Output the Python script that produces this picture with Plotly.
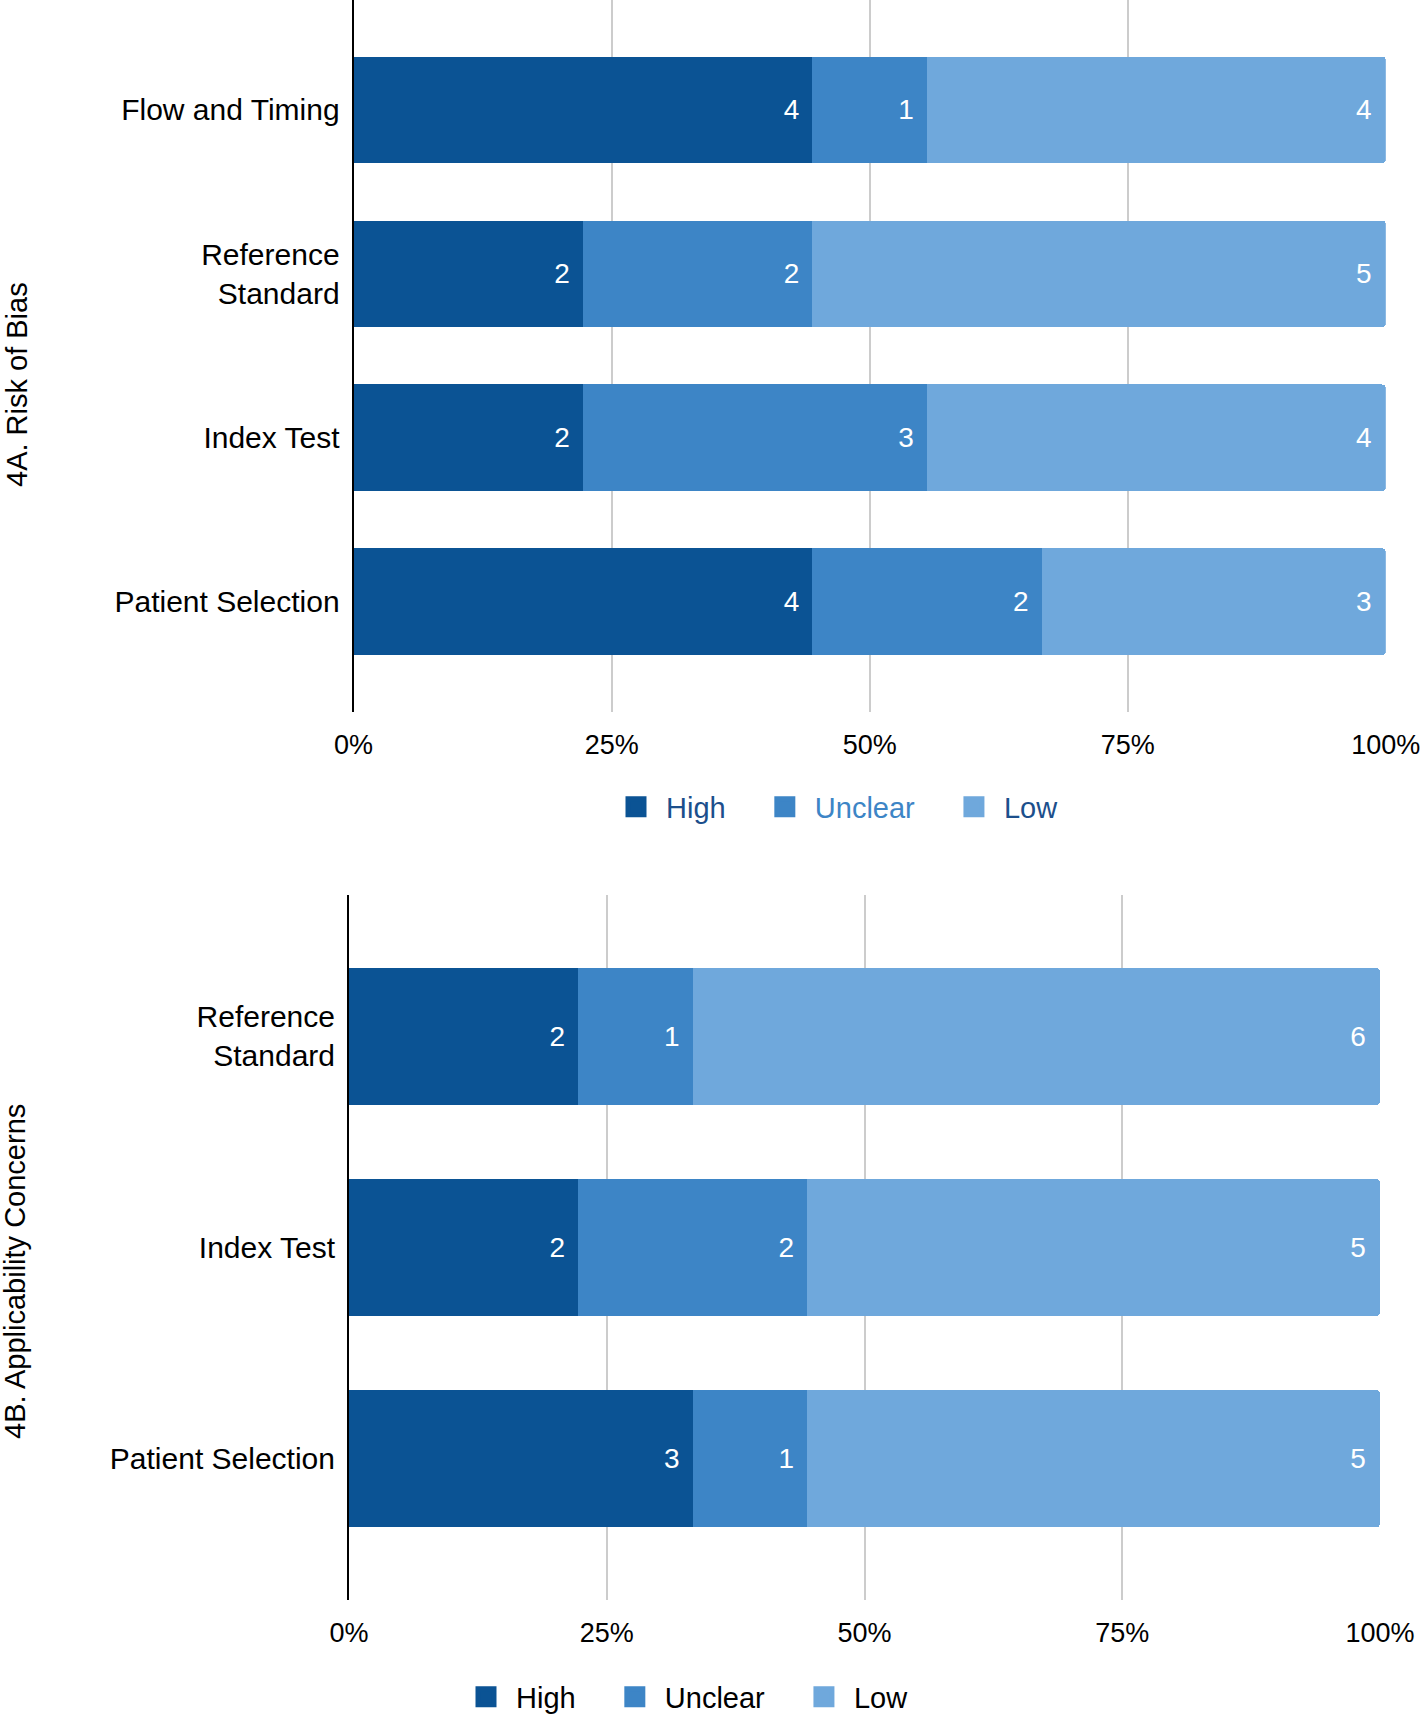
import plotly.graph_objects as go

# ---- data ----
levels = ["High", "Unclear", "Low"]
colors = ["#0b5394", "#3d85c6", "#6fa8dc"]
legend_text_colors_top = ["#1c4f8c", "#3d85c6", "#1c4f8c"]

cats_a = ["Flow and Timing", "Reference<br>Standard", "Index Test", "Patient Selection"]
high_a = [4, 2, 2, 4]
unclear_a = [1, 2, 3, 2]
low_a = [4, 5, 4, 3]

cats_b = ["Reference<br>Standard", "Index Test", "Patient Selection"]
high_b = [2, 2, 3]
unclear_b = [1, 2, 1]
low_b = [6, 5, 5]

tick_vals = [0, 25, 50, 75, 100]
tick_text = ["0%", "25%", "50%", "75%", "100%"]

FONT = "Arial, Liberation Sans, sans-serif"
W, H = 1423, 1716
PAD = "\u00a0\u00a0\u00a0"

fig = go.Figure()

series_a = [high_a, unclear_a, low_a]
series_b = [high_b, unclear_b, low_b]

for i, lev in enumerate(levels):
    fig.add_trace(go.Bar(
        x=series_a[i], y=cats_a, orientation="h", name=lev,
        marker=dict(color=colors[i], line=dict(width=0)),
        text=series_a[i], texttemplate="%{text}\u00a0\u200a",
        textposition="inside", insidetextanchor="end", textangle=0,
        textfont=dict(color="white", size=28, family=FONT),
        xaxis="x", yaxis="y", showlegend=False, hoverinfo="skip",
    ))
for i, lev in enumerate(levels):
    fig.add_trace(go.Bar(
        x=series_b[i], y=cats_b, orientation="h", name=lev,
        marker=dict(color=colors[i], line=dict(width=0)),
        text=series_b[i], texttemplate="%{text}\u00a0\u200a",
        textposition="inside", insidetextanchor="end", textangle=0,
        textfont=dict(color="white", size=28, family=FONT),
        xaxis="x2", yaxis="y2", showlegend=False, hoverinfo="skip",
    ))

# legend entries (larger square swatches)
for i, lev in enumerate(levels):
    fig.add_trace(go.Scatter(
        x=[None], y=[None], mode="markers", xaxis="x", yaxis="y",
        name=f"<span style='color:{legend_text_colors_top[i]}'>{lev}{PAD}</span>",
        marker=dict(symbol="square", size=28, color=colors[i],
                    line=dict(width=5, color=colors[i])),
        legend="legend", showlegend=True,
    ))
for i, lev in enumerate(levels):
    fig.add_trace(go.Scatter(
        x=[None], y=[None], mode="markers", xaxis="x2", yaxis="y2",
        name=f"{lev}{PAD}",
        marker=dict(symbol="square", size=28, color=colors[i],
                    line=dict(width=5, color=colors[i])),
        legend="legend2", showlegend=True,
    ))

xcommon = dict(range=[0, 100], tickvals=tick_vals, ticktext=tick_text,
               showgrid=True, gridcolor="#cccccc", gridwidth=2,
               zeroline=False, showline=False, ticks="", automargin=False,
               tickfont=dict(size=27, family=FONT, color="#000000"),
               ticklabelstandoff=14, fixedrange=True)
ycommon = dict(type="category", showgrid=False, zeroline=False,
               showline=True, linecolor="#000000", linewidth=2, ticks="",
               automargin=False,
               tickfont=dict(size=30, family=FONT, color="#000000"),
               ticklabelstandoff=6, fixedrange=True)

fig.update_layout(
    template="none",
    width=W, height=H,
    margin=dict(l=0, r=0, t=0, b=0, pad=0, autoexpand=False),
    paper_bgcolor="white", plot_bgcolor="white",
    barmode="stack", barnorm="percent", bargap=0.35,
    barcornerradius=4,
    font=dict(family=FONT, size=29, color="#000000"),
    xaxis=dict(domain=[353.6 / W, 1385.8 / W], anchor="y", **xcommon),
    yaxis=dict(domain=[1 - 711.5 / H, 1.0], anchor="x",
               categoryorder="array", categoryarray=cats_a,
               range=[3.67, -0.67], **ycommon),
    xaxis2=dict(domain=[349.0 / W, 1380.0 / W], anchor="y2", **xcommon),
    yaxis2=dict(domain=[1 - 1600.0 / H, 1 - 895.0 / H], anchor="x2",
                categoryorder="array", categoryarray=cats_b,
                range=[2.67, -0.67], **ycommon),
    legend=dict(orientation="h", x=606 / W, y=1 - 807 / H,
                xanchor="left", yanchor="middle", traceorder="normal",
                itemwidth=50,
                font=dict(size=29, family=FONT), bgcolor="rgba(0,0,0,0)"),
    legend2=dict(orientation="h", x=456 / W, y=1 - 1697 / H,
                 xanchor="left", yanchor="middle", traceorder="normal",
                 itemwidth=50,
                 font=dict(size=29, family=FONT, color="#000000"),
                 bgcolor="rgba(0,0,0,0)"),
    annotations=[
        dict(text="4A. Risk of Bias", textangle=-90, x=17 / W, y=1 - 385 / H,
             xref="paper", yref="paper", showarrow=False,
             xanchor="center", yanchor="middle",
             font=dict(size=29, family=FONT, color="#000000")),
        dict(text="4B. Applicability Concerns", textangle=-90, x=15 / W,
             y=1 - 1272 / H, xref="paper", yref="paper", showarrow=False,
             xanchor="center", yanchor="middle",
             font=dict(size=29, family=FONT, color="#000000")),
    ],
)

fig.write_html("out.html", config={"displayModeBar": False},
               post_script="document.body.style.margin='0';")
